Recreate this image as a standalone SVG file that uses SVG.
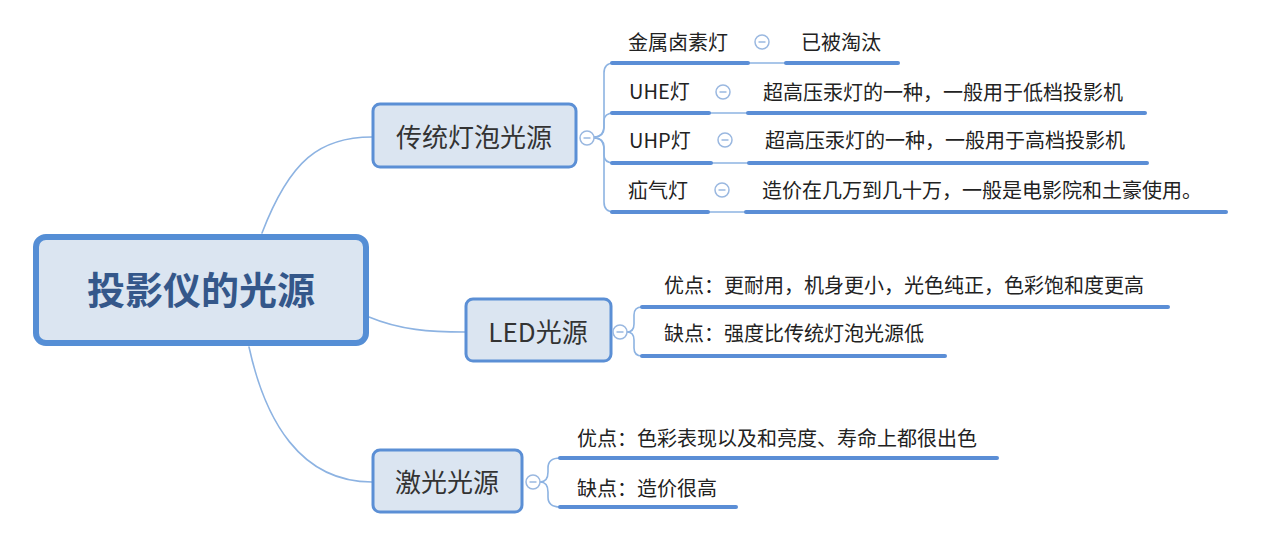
<svg xmlns="http://www.w3.org/2000/svg" width="1280" height="549" viewBox="0 0 1280 549">
<style>
.bg{fill:#ffffff}
.conn{fill:none;stroke:#8db3e2;stroke-width:1.6;stroke-linecap:round}
.thin{fill:none;stroke:#8db3e2;stroke-width:1.6}
.ul{stroke:#5b8ed6;stroke-width:4;stroke-linecap:round}
.box{fill:#dbe5f1;stroke:#5b8fd5;stroke-width:3}
.rootbox{fill:#dbe5f1;stroke:#558ed5;stroke-width:6}
.t{font-family:"Noto Sans CJK SC","Microsoft YaHei",sans-serif;font-size:20px;fill:#222222}
.nt{font-family:"Noto Sans CJK SC","Microsoft YaHei",sans-serif;font-size:26px;fill:#333333;text-anchor:middle}
.rt{font-family:"Noto Sans CJK SC","Microsoft YaHei",sans-serif;font-size:38px;font-weight:bold;fill:#34578a;text-anchor:middle}
.cc{fill:#ffffff;stroke:#9ab8e0;stroke-width:1.5}
.cm{stroke:#9ab8e0;stroke-width:1.5}
</style>
<defs>
<g id="col"><circle class="cc" r="7"/><line class="cm" x1="-3.5" y1="0" x2="3.5" y2="0"/></g>
</defs>
<rect class="bg" x="0" y="0" width="1280" height="549"/>
<g id="connectors">
<path class="conn" d="M262,233 C290,160 320,137 372,137"/>
<path class="conn" d="M369,317 C400,330 430,332 465,332"/>
<path class="conn" d="M249,347 C265,420 300,482 372,482"/>
<path class="conn" d="M594,137 Q604,137 604,125 L604,73 Q604,63 614,63"/>
<path class="conn" d="M594,137 Q604,137 604,128 L604,121 Q604,113 614,113"/>
<path class="conn" d="M594,138 Q604,138 604,147 L604,155 Q604,163 614,163"/>
<path class="conn" d="M594,138 Q604,138 604,150 L604,202 Q604,212 614,212"/>
<path class="conn" d="M627,332 Q634,332 634,324 L634,315 Q634,307 642,307"/>
<path class="conn" d="M627,332 Q634,332 634,340 L634,348 Q634,356 642,356"/>
<path class="conn" d="M540,482 Q548,482 548,472 L548,468 Q548,458 560,458"/>
<path class="conn" d="M540,482 Q548,482 548,492 L548,497 Q548,507 560,507"/>
<line class="thin" x1="748" y1="63" x2="785" y2="63"/>
<line class="thin" x1="709" y1="113" x2="747" y2="113"/>
<line class="thin" x1="711" y1="163" x2="748" y2="163"/>
<line class="thin" x1="708" y1="212" x2="745" y2="212"/>
</g>
<g id="root">
<rect class="rootbox" x="36" y="237" width="330" height="106" rx="10"/>
<text class="rt" x="201" y="304">投影仪的光源</text>
</g>
<g id="n-traditional">
<rect class="box" x="373" y="104" width="203" height="63" rx="7"/>
<text class="nt" x="474" y="147">传统灯泡光源</text>
<use href="#col" x="587" y="138"/>
</g>
<g id="n-metal">
<line class="ul" x1="612" y1="63" x2="748" y2="63"/>
<text class="t" x="628" y="49.5">金属卤素灯</text>
<use href="#col" x="762" y="42"/>
</g>
<g id="n-metal-d">
<line class="ul" x1="786" y1="63" x2="898" y2="63"/>
<text class="t" x="801" y="49.5">已被淘汰</text>
</g>
<g id="n-uhe">
<line class="ul" x1="612" y1="113" x2="709" y2="113"/>
<text class="t" x="629" y="98.5">UHE灯</text>
<use href="#col" x="723" y="92"/>
</g>
<g id="n-uhe-d">
<line class="ul" x1="748" y1="113" x2="1145" y2="113"/>
<text class="t" x="763" y="99.5">超高压汞灯的一种，一般用于低档投影机</text>
</g>
<g id="n-uhp">
<line class="ul" x1="612" y1="163" x2="711" y2="163"/>
<text class="t" x="629" y="147.5">UHP灯</text>
<use href="#col" x="725" y="140"/>
</g>
<g id="n-uhp-d">
<line class="ul" x1="749" y1="163" x2="1147" y2="163"/>
<text class="t" x="765" y="147.5">超高压汞灯的一种，一般用于高档投影机</text>
</g>
<g id="n-xenon">
<line class="ul" x1="612" y1="212" x2="708" y2="212"/>
<text class="t" x="628" y="197.5">疝气灯</text>
<use href="#col" x="722" y="190"/>
</g>
<g id="n-xenon-d">
<line class="ul" x1="746" y1="212" x2="1226" y2="212"/>
<text class="t" x="762" y="197.5">造价在几万到几十万，一般是电影院和土豪使用。</text>
</g>
<g id="n-led">
<rect class="box" x="466" y="299" width="145" height="62" rx="7"/>
<text class="nt" x="538" y="342">LED光源</text>
<use href="#col" x="620" y="332"/>
</g>
<g id="n-led-pro">
<line class="ul" x1="642" y1="307" x2="1168" y2="307"/>
<text class="t" x="664" y="292.5">优点：更耐用，机身更小，光色纯正，色彩饱和度更高</text>
</g>
<g id="n-led-con">
<line class="ul" x1="642" y1="356" x2="945" y2="356"/>
<text class="t" x="664" y="340.5">缺点：强度比传统灯泡光源低</text>
</g>
<g id="n-laser">
<rect class="box" x="373" y="450" width="149" height="62" rx="7"/>
<text class="nt" x="447" y="492">激光光源</text>
<use href="#col" x="533" y="482"/>
</g>
<g id="n-laser-pro">
<line class="ul" x1="560" y1="458" x2="997" y2="458"/>
<text class="t" x="577" y="445.5">优点：色彩表现以及和亮度、寿命上都很出色</text>
</g>
<g id="n-laser-con">
<line class="ul" x1="560" y1="507" x2="736" y2="507"/>
<text class="t" x="577" y="496">缺点：造价很高</text>
</g>
</svg>
